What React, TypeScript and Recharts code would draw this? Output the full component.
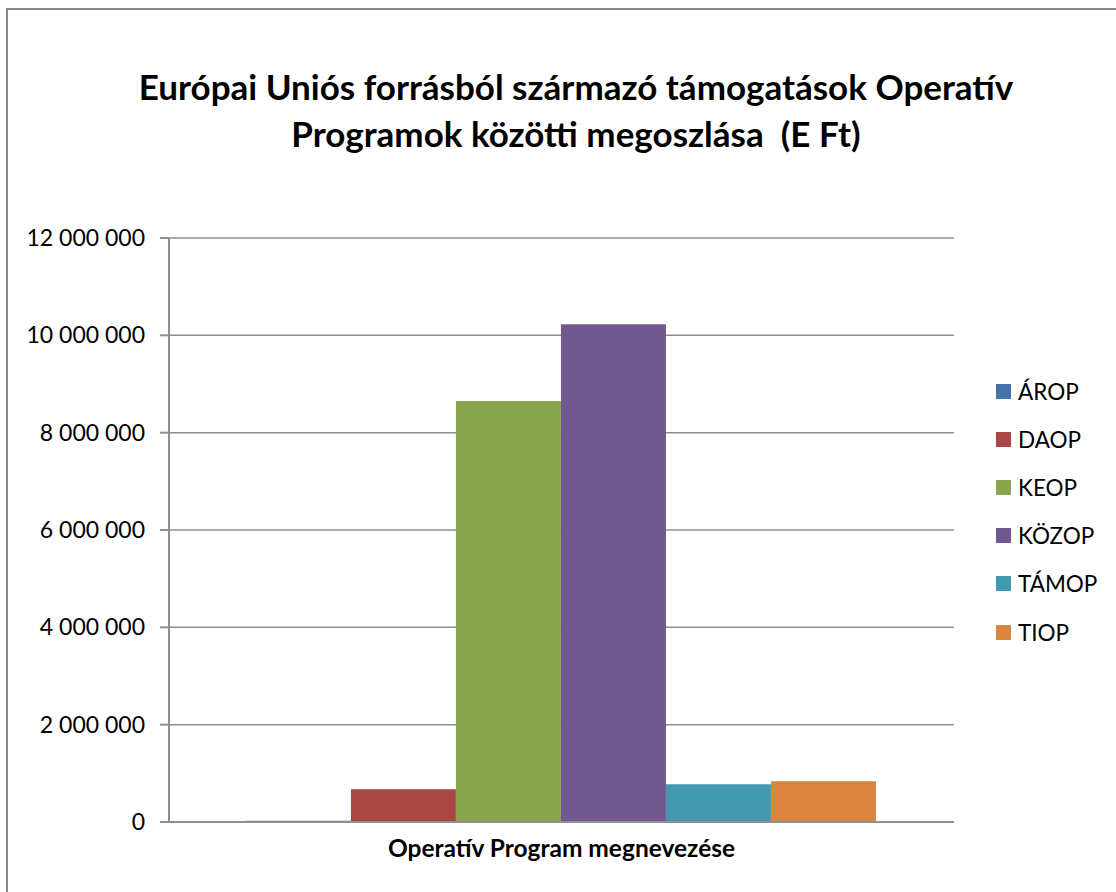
import React from "react";
import { BarChart, Bar, XAxis, YAxis, CartesianGrid, Legend } from "recharts";

const categories = ["Operatív Program megnevezése"];
const seriesNames = ["ÁROP", "DAOP", "KEOP", "KÖZOP", "TÁMOP", "TIOP"];
const seriesValues = [25000, 672000, 8650000, 10226000, 775000, 836000];
const seriesColors = ["#4572A7", "#AA4643", "#89A54E", "#71588F", "#4198AF", "#DB843D"];
const yTicks = [0, 2000000, 4000000, 6000000, 8000000, 10000000, 12000000];
const titleLines = [
  "Európai Uniós forrásból származó támogatások Operatív",
  "Programok közötti megoszlása  (E Ft)",
];

const data = categories.map((c) => {
  const row: Record<string, string | number> = { name: c };
  seriesNames.forEach((s, i) => {
    row[s] = seriesValues[i];
  });
  return row;
});

const FONT = "Lato, 'Open Sans', sans-serif";

const fmt = (v: number) =>
  String(v).replace(/\B(?=(\d{3})+(?!\d))/g, " ");

const XTick = (props: any) => {
  const { x, y, payload } = props;
  return (
    <text
      x={x}
      y={y}
      dy={27}
      textAnchor="middle"
      fontFamily={FONT}
      fontWeight={700}
      fontSize={24.5}
      fill="#000"
    >
      {payload.value}
    </text>
  );
};

const LegendContent = (props: any) => {
  const items = [...(props.payload || [])].sort(
    (a: any, b: any) => seriesNames.indexOf(a.value) - seriesNames.indexOf(b.value)
  );
  return (
    <div style={{ fontFamily: FONT, fontSize: 22.5, color: "#000" }}>
      {items.map((p: any, i: number) => (
        <div
          key={i}
          style={{ display: "flex", alignItems: "center", height: 48.2 }}
        >
          <span
            style={{
              display: "inline-block",
              width: 15,
              height: 15,
              background: p.color,
              marginRight: 7,
            }}
          />
          <span>{p.value}</span>
        </div>
      ))}
    </div>
  );
};

export default function App() {
  return (
    <div
      style={{
        position: "fixed",
        left: 0,
        top: 0,
        width: 1116,
        height: 892,
        overflow: "hidden",
        background: "#fff",
      }}
    >
      <div
        style={{
          position: "absolute",
          left: 6,
          top: 8,
          width: 1200,
          height: 1000,
          border: "2px solid #8a8a8a",
        }}
      />
      <div
        style={{
          position: "absolute",
          left: 0,
          top: 63,
          width: 1152,
          textAlign: "center",
          fontFamily: FONT,
          fontWeight: 700,
          fontSize: 35,
          lineHeight: "47px",
          color: "#000",
        }}
      >
        {titleLines.map((l, i) => (
          <div key={i} style={{ whiteSpace: "pre" }}>
            {l}
          </div>
        ))}
      </div>
      <div style={{ position: "absolute", left: 0, top: 0 }}>
        <BarChart
          width={1116}
          height={892}
          data={data}
          margin={{ top: 238, right: 42, bottom: 30, left: 0 }}
          barCategoryGap="9.8%"
          barGap={0}
        >
          <CartesianGrid
            vertical={false}
            stroke="#8f8f8f"
            strokeWidth={1.5}
          />
          <XAxis
            dataKey="name"
            height={40}
            tickLine={false}
            axisLine={{ stroke: "#8f8f8f", strokeWidth: 2 }}
            tick={<XTick />}
            interval={0}
          />
          <YAxis
            width={169}
            domain={[0, 12000000]}
            ticks={yTicks}
            interval={0}
            tickFormatter={fmt}
            tickSize={9}
            tickMargin={15}
            axisLine={{ stroke: "#8f8f8f", strokeWidth: 2 }}
            tickLine={{ stroke: "#8f8f8f", strokeWidth: 2 }}
            tick={{ fontFamily: FONT, fontSize: 23, fill: "#000" }}
          />
          <Legend
            layout="vertical"
            align="right"
            verticalAlign="top"
            content={<LegendContent />}
            wrapperStyle={{ position: "absolute", left: 996, top: 367, width: 120 }}
          />
          {seriesNames.map((s, i) => (
            <Bar
              key={s}
              dataKey={s}
              name={s}
              fill={seriesColors[i]}
              isAnimationActive={false}
            />
          ))}
        </BarChart>
      </div>
    </div>
  );
}
